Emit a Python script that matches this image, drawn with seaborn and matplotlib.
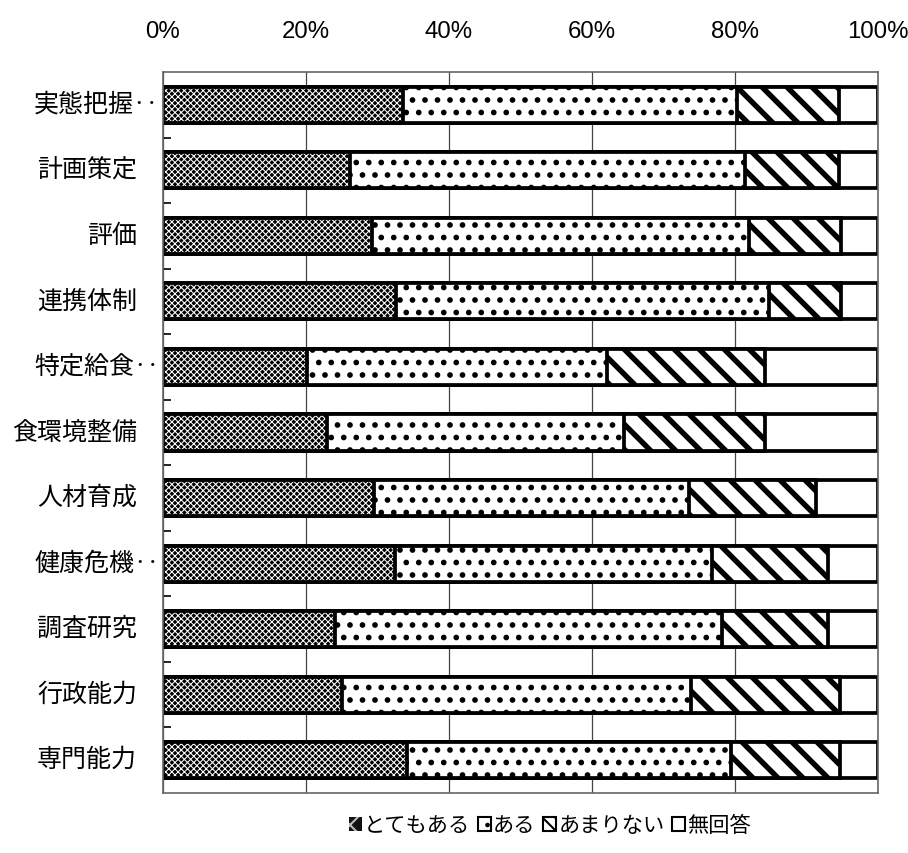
import numpy as np
import pandas as pd
import matplotlib
matplotlib.use("Agg")
import matplotlib.pyplot as plt
import matplotlib.transforms as mtransforms
from matplotlib.patches import Patch
import seaborn as sns

items = ["実態把握‥", "計画策定", "評価", "連携体制", "特定給食‥", "食環境整備",
         "人材育成", "健康危機‥", "調査研究", "行政能力", "専門能力"]
very = [33.5, 26.2, 29.2, 32.6, 20.2, 23.0, 29.5, 32.4, 24.1, 25.1, 34.1]
some = [46.8, 55.2, 52.7, 52.2, 41.9, 41.5, 44.1, 44.4, 54.1, 48.8, 45.3]
little = [14.3, 13.2, 12.9, 10.0, 22.1, 19.7, 17.7, 16.2, 14.8, 20.8, 15.3]
no_answer = [5.4, 5.4, 5.2, 5.2, 15.8, 15.8, 8.7, 7.0, 7.0, 5.3, 5.3]
series_names = ["とてもある", "ある", "あまりない", "無回答"]
x_ticks = [0, 20, 40, 60, 80, 100]

jp = ["Noto Sans CJK JP", "DejaVu Sans"]
num_font = ["Liberation Sans", "DejaVu Sans"]
plt.rcParams["font.family"] = jp

df = pd.DataFrame({"item": items, "very": very, "some": some,
                   "little": little, "none": no_answer})
# cumulative ends, drawn from the longest to the shortest so they overlap
df["c1"] = df["very"]
df["c2"] = df["c1"] + df["some"]
df["c3"] = df["c2"] + df["little"]
df["c4"] = df["c3"] + df["none"]

DPI = 150
fig = plt.figure(figsize=(909 / DPI, 853 / DPI), dpi=DPI)
ax = fig.add_axes([163 / 909, 1 - 793 / 853, (878 - 163) / 909, (793 - 72) / 853])

bw = 0.55
edge_lw = 1.8


def bars(col, hatch_lw=None, **kw):
    n = len(ax.patches)
    sns.barplot(data=df, x=col, y="item", order=items, orient="h", ax=ax,
                width=bw, saturation=1, **kw)
    if hatch_lw is not None:
        for p in ax.patches[n:]:
            if hasattr(p, "set_hatch_linewidth"):
                p.set_hatch_linewidth(hatch_lw)


bars("c4", color="white", edgecolor="black", linewidth=edge_lw)
bars("c3", hatch_lw=2.6, color="white", edgecolor="black", linewidth=edge_lw, hatch="\\\\")
bars("c2", hatch_lw=1.5, color="white", edgecolor="black", linewidth=edge_lw, hatch="..")
bars("c1", hatch_lw=0.5, color="black", edgecolor="white", linewidth=0, hatch="xxxxxxxx")
bars("c1", fill=False, edgecolor="black", linewidth=edge_lw)

ax.set_xlim(0, 100)
ax.set_ylim(len(items) - 0.5, -0.5)
ax.set_xlabel("")
ax.set_ylabel("")

ax.xaxis.tick_top()
ax.set_xticks(x_ticks)
ax.set_xticklabels([f"{t}%" for t in x_ticks], family=num_font, fontsize=11.5)
ax.tick_params(axis="x", length=0, pad=14)

# category labels: plain ones end ~26px left of the axis, "‥" ones run on to ~4px
ax.set_yticks(range(len(items)))
ax.set_yticklabels([])
ax.tick_params(axis="y", which="major", length=0)
for i, name in enumerate(items):
    gap = 4 if name.endswith("‥") else 26
    tr = ax.get_yaxis_transform() + mtransforms.ScaledTranslation(-gap / DPI, 0, fig.dpi_scale_trans)
    ax.text(0, i, name, transform=tr, ha="right", va="center", fontsize=12)

ax.set_yticks(np.arange(len(items) - 1) + 0.5, minor=True)
ax.tick_params(axis="y", which="minor", direction="in", length=4, width=0.8)

ax.grid(axis="x", color="#444444", linewidth=0.6)
ax.set_axisbelow(True)
for s in ax.spines.values():
    s.set_color("#666666")
    s.set_linewidth(0.8)

handles = [
    Patch(facecolor="#111111", edgecolor="#bbbbbb", hatch="xx", linewidth=0),
    Patch(facecolor="white", edgecolor="black", hatch="..", linewidth=1),
    Patch(facecolor="white", edgecolor="black", hatch="\\\\\\\\", linewidth=1),
    Patch(facecolor="white", edgecolor="black", linewidth=1),
]
fig.legend(handles, series_names, loc="center", bbox_to_anchor=(0.605, 0.032),
           ncol=4, frameon=False, handlelength=0.6, handleheight=0.6,
           handletextpad=0.12, columnspacing=0.35, fontsize=10.2)

fig.savefig("out.png", dpi=DPI)
